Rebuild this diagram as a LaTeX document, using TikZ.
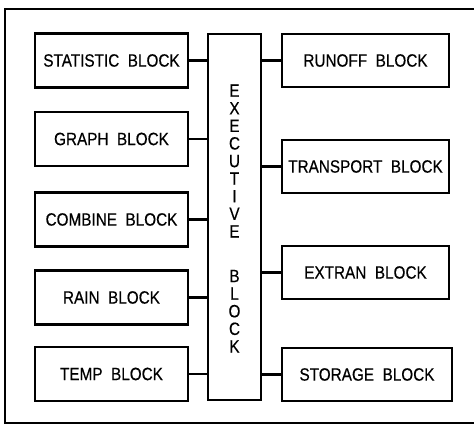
\documentclass[tikz,border=0pt]{standalone}
\usepackage{fontspec}
\setmainfont{Liberation Sans}[FakeStretch=0.86,FakeBold=0.4,WordSpace=2.0]
\usetikzlibrary{positioning}

\begin{document}
\begin{tikzpicture}[
  x=1pt,y=-1pt,
  font=\fontsize{17.8}{17.6}\selectfont,
  frameline/.style={draw=black,line width=1.5pt},
  blockbox/.style={rectangle,draw=black,line width=2.2pt,fill=white,inner sep=0pt},
  leftblock/.style={blockbox,minimum width=153pt,minimum height=54pt},
  rightblock/.style={blockbox,minimum width=167pt,minimum height=53pt},
  execbox/.style={blockbox,minimum width=53pt,minimum height=366pt},
  link/.style={draw=black,line width=2.2pt}
]
\useasboundingbox (0,0) rectangle (474,425);
% outer frame (open at the right edge)
\draw[frameline] (474,9) -- (5,9) -- (5,423) -- (474,423);
% executive block
\node[execbox] (exec) at (234.5,217) {};
\node[align=center,inner sep=0pt] (execlab) at (234.5,218.5)
  {E\\X\\E\\C\\U\\T\\I\\V\\E\\[27pt]B\\L\\O\\C\\K};
% left column
\foreach \n/\y/\lab in {stat/60.5/{STATISTIC BLOCK},graph/139/{GRAPH BLOCK},
    comb/219.5/{COMBINE BLOCK},rain/297.5/{RAIN BLOCK},temp/374/{TEMP BLOCK}}{
  \node[leftblock] (\n) at (111.5,\y) {\lab};
  \draw[link] (\n.east) -- (\n.east -| exec.west);
}
% right column
\foreach \n/\y/\lab in {runoff/60.5/{RUNOFF BLOCK},trans/166.5/{TRANSPORT BLOCK},
    extran/272.5/{EXTRAN BLOCK}}{
  \node[rightblock] (\n) at (365.5,\y) {\lab};
  \draw[link] (\n.west) -- (\n.west -| exec.east);
}
\node[rightblock,minimum width=170pt] (stor) at (367,374.5) {STORAGE BLOCK};
\draw[link] (stor.west) -- (stor.west -| exec.east);
\end{tikzpicture}
\end{document}
